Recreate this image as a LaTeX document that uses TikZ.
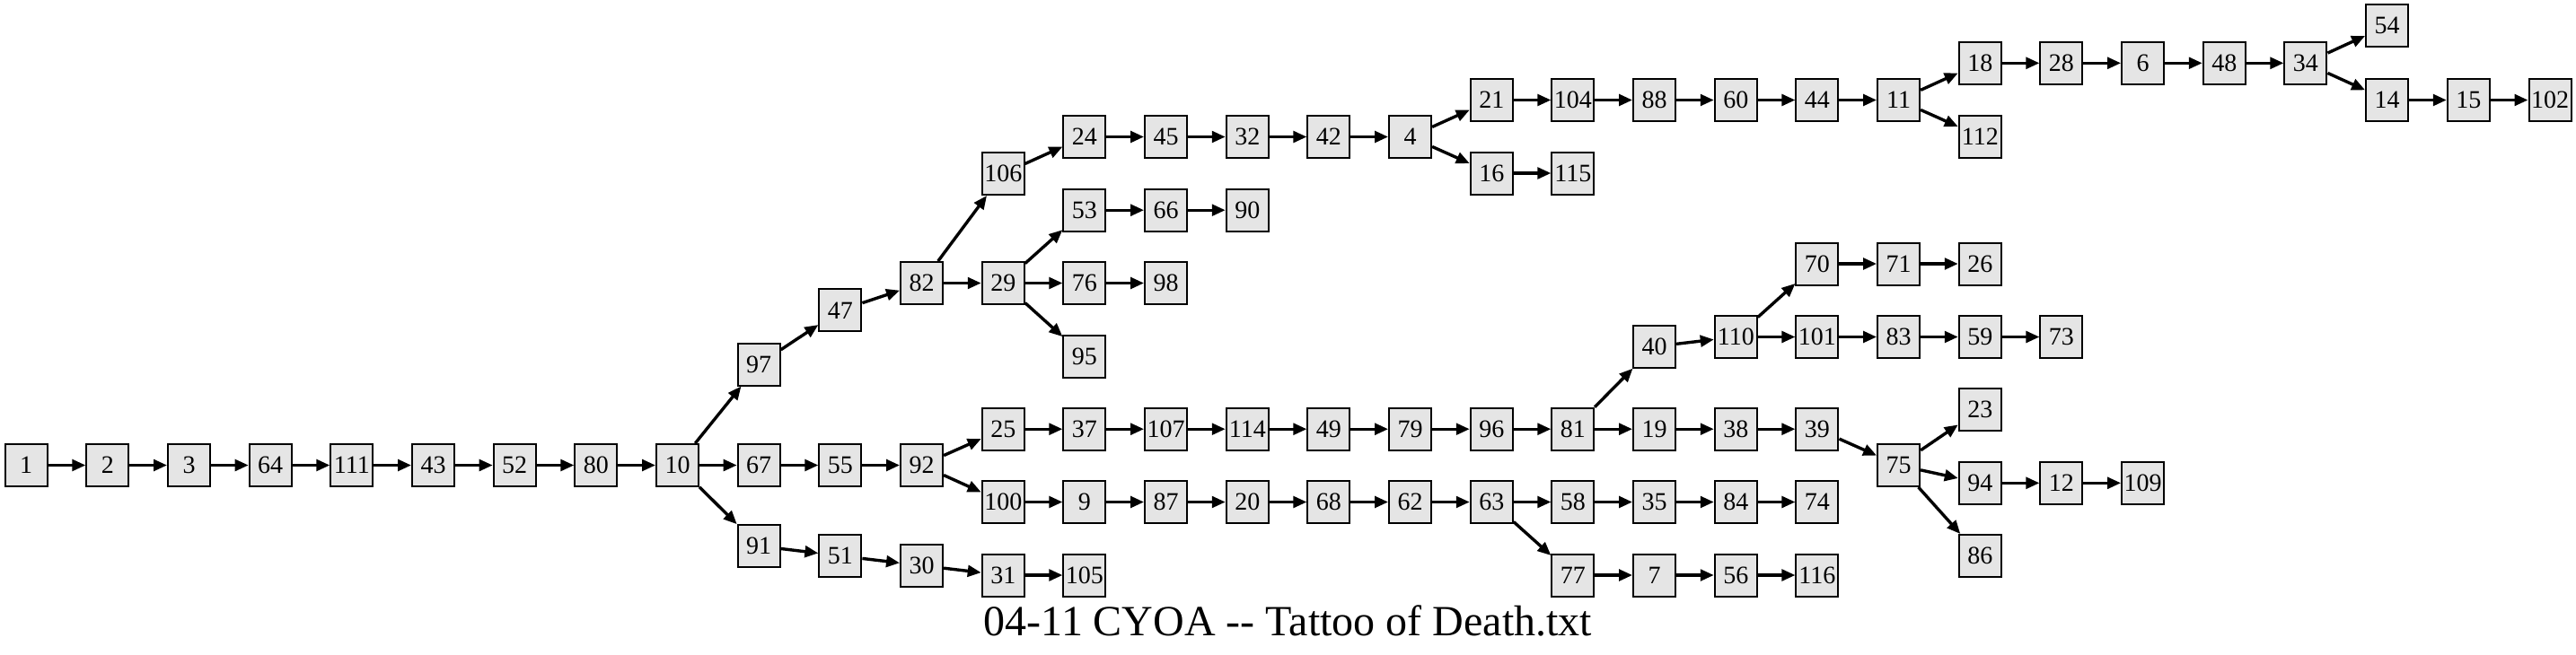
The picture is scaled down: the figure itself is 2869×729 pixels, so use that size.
\documentclass[tikz,border=0pt]{standalone}
\usepackage{fontspec}
\setmainfont{Liberation Serif}
\usetikzlibrary{arrows.meta}
\definecolor{boxfill}{RGB}{229,229,229}
\newcommand\gvnode[4]{\node[nb] (n#1) at ({29.2+90.67*#2},#3) {#4};}
\begin{document}
\begin{tikzpicture}[x=0.5pt,y=-0.5pt,
  nb/.style={draw=black,fill=boxfill,line width=1pt,minimum width=23.5pt,minimum height=23.5pt,inner sep=0pt,font=\fontsize{14pt}{16pt}\selectfont},
  ed/.style={line width=1.7pt,-{Triangle[length=7.5pt,width=6.3pt]}},
  ttl/.style={anchor=base,font=\fontsize{24pt}{28pt}\selectfont,inner sep=0pt}]
\useasboundingbox (0,0) rectangle (2869,729);
% rank 0-8
\gvnode{1}{0}{518.5}{1}
\gvnode{2}{1}{518.5}{2}
\gvnode{3}{2}{518.5}{3}
\gvnode{64}{3}{518.5}{64}
\gvnode{111}{4}{518.5}{111}
\gvnode{43}{5}{518.5}{43}
\gvnode{52}{6}{518.5}{52}
\gvnode{80}{7}{518.5}{80}
\gvnode{10}{8}{518.5}{10}
% rank 9
\gvnode{97}{9}{406}{97}
\gvnode{67}{9}{518.5}{67}
\gvnode{91}{9}{608.5}{91}
% rank 10
\gvnode{47}{10}{345.8}{47}
\gvnode{55}{10}{518.5}{55}
\gvnode{51}{10}{619.5}{51}
% rank 11
\gvnode{82}{11}{315.5}{82}
\gvnode{92}{11}{518.5}{92}
\gvnode{30}{11}{630.3}{30}
% rank 12
\gvnode{106}{12}{193.5}{106}
\gvnode{29}{12}{315.5}{29}
\gvnode{25}{12}{478.2}{25}
\gvnode{100}{12}{559.5}{100}
\gvnode{31}{12}{641}{31}
% rank 13
\gvnode{24}{13}{152.5}{24}
\gvnode{53}{13}{234.2}{53}
\gvnode{76}{13}{315.5}{76}
\gvnode{95}{13}{397.2}{95}
\gvnode{37}{13}{478.2}{37}
\gvnode{9}{13}{559.5}{9}
\gvnode{105}{13}{641}{105}
% rank 14
\gvnode{45}{14}{152.5}{45}
\gvnode{66}{14}{234.2}{66}
\gvnode{98}{14}{315.5}{98}
\gvnode{107}{14}{478.2}{107}
\gvnode{87}{14}{559.5}{87}
% rank 15
\gvnode{32}{15}{152.5}{32}
\gvnode{90}{15}{234.2}{90}
\gvnode{114}{15}{478.2}{114}
\gvnode{20}{15}{559.5}{20}
% rank 16
\gvnode{42}{16}{152.5}{42}
\gvnode{49}{16}{478.2}{49}
\gvnode{68}{16}{559.5}{68}
% rank 17
\gvnode{4}{17}{152.5}{4}
\gvnode{79}{17}{478.2}{79}
\gvnode{62}{17}{559.5}{62}
% rank 18
\gvnode{21}{18}{111.5}{21}
\gvnode{16}{18}{193}{16}
\gvnode{96}{18}{478.2}{96}
\gvnode{63}{18}{559.5}{63}
% rank 19
\gvnode{104}{19}{111.5}{104}
\gvnode{115}{19}{193}{115}
\gvnode{81}{19}{478.2}{81}
\gvnode{58}{19}{559.5}{58}
\gvnode{77}{19}{641}{77}
% rank 20
\gvnode{88}{20}{111.5}{88}
\gvnode{40}{20}{386.2}{40}
\gvnode{19}{20}{478.2}{19}
\gvnode{35}{20}{559.5}{35}
\gvnode{7}{20}{641}{7}
% rank 21
\gvnode{60}{21}{111.5}{60}
\gvnode{110}{21}{375.5}{110}
\gvnode{38}{21}{478.2}{38}
\gvnode{84}{21}{559.5}{84}
\gvnode{56}{21}{641}{56}
% rank 22
\gvnode{44}{22}{111.5}{44}
\gvnode{70}{22}{294}{70}
\gvnode{101}{22}{375.5}{101}
\gvnode{39}{22}{478.2}{39}
\gvnode{74}{22}{559.5}{74}
\gvnode{116}{22}{641}{116}
% rank 23
\gvnode{11}{23}{111.5}{11}
\gvnode{71}{23}{294}{71}
\gvnode{83}{23}{375.5}{83}
\gvnode{75}{23}{518.5}{75}
% rank 24
\gvnode{18}{24}{70.3}{18}
\gvnode{112}{24}{152}{112}
\gvnode{26}{24}{294}{26}
\gvnode{59}{24}{375.5}{59}
\gvnode{23}{24}{456.7}{23}
\gvnode{94}{24}{538.3}{94}
\gvnode{86}{24}{619.5}{86}
% rank 25
\gvnode{28}{25}{70.3}{28}
\gvnode{73}{25}{375.5}{73}
\gvnode{12}{25}{538.3}{12}
% rank 26
\gvnode{6}{26}{70.3}{6}
\gvnode{109}{26}{538.3}{109}
% rank 27-31
\gvnode{48}{27}{70.3}{48}
\gvnode{34}{28}{70.3}{34}
\gvnode{54}{29}{28.7}{54}
\gvnode{14}{29}{111.5}{14}
\gvnode{15}{30}{111.5}{15}
\gvnode{102}{31}{111.5}{102}
% title
\node[ttl] (title) at (1434.5,708) {04-11 CYOA -{}- Tattoo of Death.txt};
% edges
\foreach \a/\b in {1/2,2/3,3/64,64/111,111/43,43/52,52/80,80/10,
  10/97,10/67,10/91,97/47,47/82,82/106,82/29,
  106/24,24/45,45/32,32/42,42/4,4/21,4/16,
  21/104,104/88,88/60,60/44,44/11,11/18,11/112,
  18/28,28/6,6/48,48/34,34/54,34/14,14/15,15/102,
  16/115,29/53,29/76,29/95,53/66,66/90,76/98,
  67/55,55/92,92/25,92/100,
  25/37,37/107,107/114,114/49,49/79,79/96,96/81,81/40,81/19,
  40/110,110/70,110/101,70/71,71/26,101/83,83/59,59/73,
  19/38,38/39,39/75,75/23,75/94,75/86,94/12,12/109,
  100/9,9/87,87/20,20/68,68/62,62/63,63/58,63/77,
  58/35,35/84,84/74,77/7,7/56,56/116,
  91/51,51/30,30/31,31/105}
  \draw[ed] (n\a) -- (n\b);
\end{tikzpicture}
\end{document}
